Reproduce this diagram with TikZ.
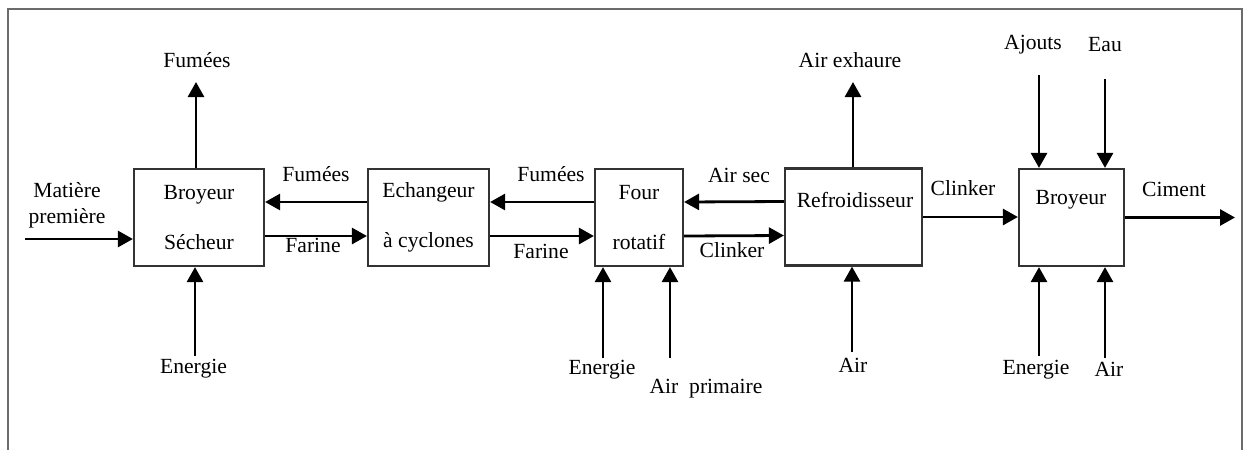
\documentclass[tikz,border=0pt]{standalone}
\usepackage{fontspec}
\setmainfont{Liberation Serif}
\usetikzlibrary{arrows.meta}
\definecolor{cframe}{HTML}{6B6B6B}
\definecolor{cline}{HTML}{333333}
\tikzset{
  every picture/.style={line width=1pt},
  unit/.style={draw=cline, line width=1.1pt, align=center, inner sep=0pt, minimum height=48.5pt, font=\fontsize{10.8}{13}\selectfont},
  flow/.style={-{Triangle[length=7.5pt, width=8pt]}, draw=black, line width=1.4pt},
  lbl/.style={inner sep=0pt, align=center, font=\fontsize{10.8}{13}\selectfont},
  frame/.style={draw=cframe, line width=0.6pt},
}

\begin{document}
\begin{tikzpicture}[x=0.5pt, y=-0.5pt]
  \useasboundingbox (0,0) rectangle (1243,450);
  \draw[frame] (8,450) -- (8,9) -- (1242,9) -- (1242,450);
  % ---- process units
  \node[unit, minimum width=65pt]   (bs)   at (199,217.5)   {Broyeur\\[12pt]Sécheur};
  \node[unit, minimum width=60.5pt] (ech)  at (428.5,217.5) {Echangeur\\[12pt]à cyclones};
  \node[unit, minimum width=44pt]   (four) at (639,217.5)   {Four\\[12pt]rotatif};
  \node[unit, minimum width=68.5pt] (refr) at (853.5,217)   {};
  \node[lbl] (refrname) at (855,200) {Refroidisseur};
  \node[unit, minimum width=52.5pt] (broy) at (1071.5,217.5) {};
  \node[lbl] (broyname) at (1071,200) {Broyeur};
  % ---- main line
  \coordinate (mpin) at (25,239);
  \coordinate (cimout) at (1235,217.5);
  \node[lbl] (matiere) at (67,205) {Matière\\première};
  \draw[flow] (mpin) -- (mpin -| bs.west);
  \draw[flow] ([yshift=7.75pt]ech.west) -- ([yshift=7.75pt]bs.east);
  \draw[flow] ([yshift=-9.25pt]bs.east) -- ([yshift=-9.25pt]ech.west);
  \node[lbl] (fumees2) at (316,174.5) {Fumées};
  \node[lbl] (farine1) at (313,245.5) {Farine};
  \draw[flow] ([yshift=7.75pt]four.west) -- ([yshift=7.75pt]ech.east);
  \draw[flow] ([yshift=-9.25pt]ech.east) -- ([yshift=-9.25pt]four.west);
  \node[lbl] (fumees3) at (551,174) {Fumées};
  \node[lbl] (farine2) at (541,251.5) {Farine};
  \draw[flow] ([yshift=7.75pt]refr.west) -- ([yshift=7.75pt]four.east);
  \draw[flow] ([yshift=-9.25pt]four.east) -- ([yshift=-9.25pt]refr.west);
  \node[lbl] (airsec) at (739,175.5) {Air sec};
  \node[lbl] (clinker1) at (732,250.5) {Clinker};
  \draw[flow] (refr.east) -- (refr.east -| broy.west);
  \node[lbl] (clinker2) at (963,188.5) {Clinker};
  \draw[flow] (broy.east) -- (broy.east -| cimout);
  \node[lbl] (ciment) at (1174,189.5) {Ciment};
  % ---- streams going up
  \coordinate (fumtop) at (196,82);
  \coordinate (exhtop) at (853,82);
  \draw[flow] (fumtop |- bs.north) -- (fumtop);
  \draw[flow] (exhtop |- refr.north) -- (exhtop);
  \node[lbl] (fumees1) at (197,60.5) {Fumées};
  \node[lbl] (exhaure) at (850,60.5) {Air exhaure};
  % ---- streams coming down
  \coordinate (ajin) at (1039,75);
  \coordinate (eauin) at (1105,79);
  \foreach \c in {ajin, eauin} \draw[flow] (\c) -- (\c |- broy.north);
  \node[lbl] (ajouts) at (1033,45) {Ajouts};
  \node[lbl] (eau) at (1105,44.5) {Eau};
  % ---- streams coming up from below
  \coordinate (enr1) at (195,356);
  \coordinate (enr3) at (603,358);
  \coordinate (airprim) at (670,358);
  \coordinate (airref) at (852,352);
  \coordinate (enr5) at (1039,356);
  \coordinate (air5) at (1105,358);
  \foreach \c/\b in {enr1/bs, enr3/four, airprim/four, airref/refr, enr5/broy, air5/broy}
    \draw[flow] (\c) -- (\c |- \b.south);
  \node[lbl] (energie1) at (193.5,368.5) {Energie};
  \node[lbl] (energie3) at (602,370) {Energie};
  \node[lbl] (primaire) at (706,388.5) {Air~~primaire};
  \node[lbl] (air4) at (853,365.5) {Air};
  \node[lbl] (energie5) at (1036,369.5) {Energie};
  \node[lbl] (air6) at (1109,369.5) {Air};
\end{tikzpicture}
\end{document}
